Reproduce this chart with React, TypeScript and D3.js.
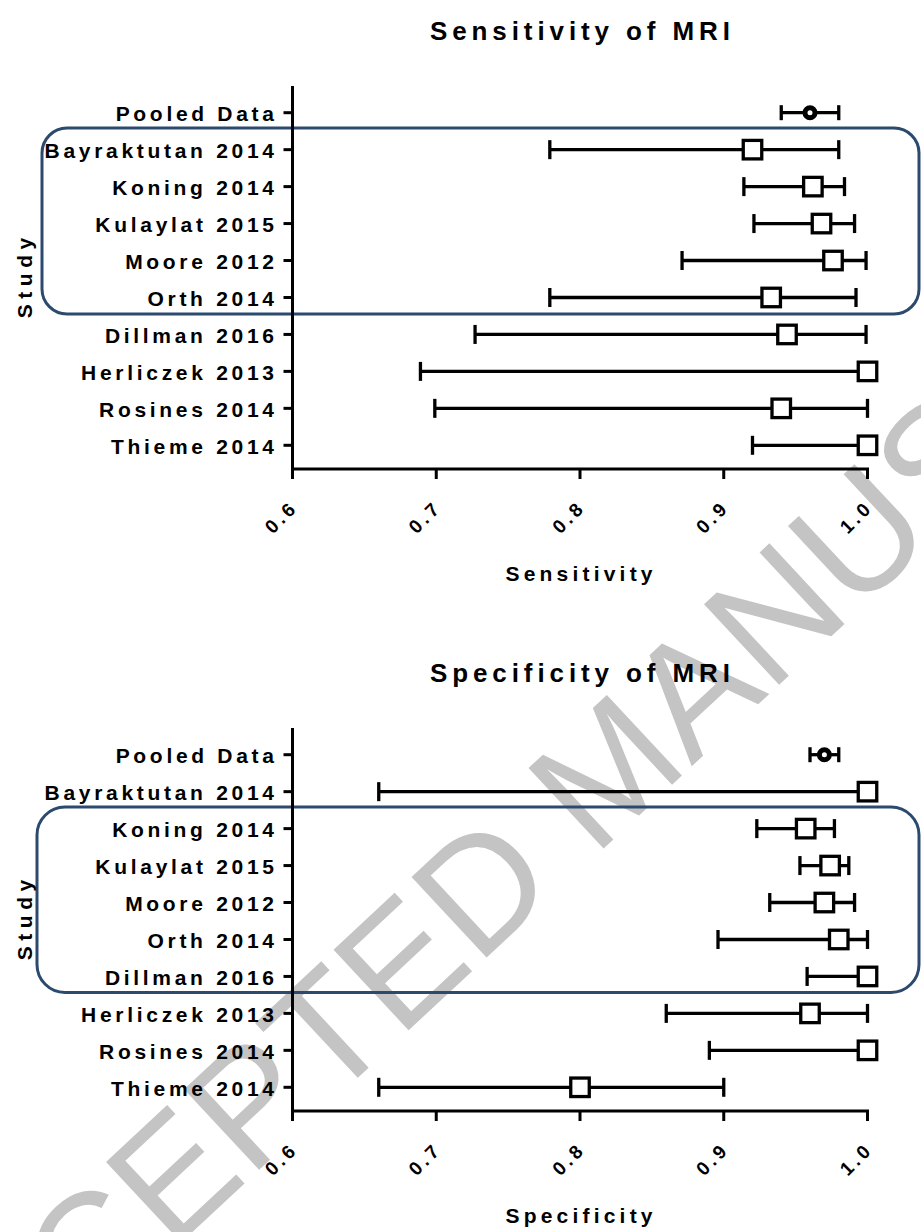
import React from "react";
import * as d3 from "d3";

const categories = [
  "Pooled Data",
  "Bayraktutan 2014",
  "Koning 2014",
  "Kulaylat 2015",
  "Moore 2012",
  "Orth 2014",
  "Dillman 2016",
  "Herliczek 2013",
  "Rosines 2014",
  "Thieme 2014",
];

const sensEst = [0.96, 0.92, 0.962, 0.968, 0.976, 0.933, 0.944, 1.0, 0.94, 1.0];
const sensLo = [0.94, 0.779, 0.914, 0.921, 0.871, 0.779, 0.727, 0.689, 0.699, 0.92];
const sensHi = [0.98, 0.98, 0.984, 0.991, 0.999, 0.992, 0.999, 1.0, 1.0, 1.0];

const specEst = [0.97, 1.0, 0.957, 0.974, 0.97, 0.98, 1.0, 0.96, 1.0, 0.8];
const specLo = [0.96, 0.66, 0.923, 0.953, 0.932, 0.896, 0.958, 0.86, 0.89, 0.66];
const specHi = [0.98, 1.0, 0.977, 0.987, 0.991, 1.0, 1.0, 1.0, 1.0, 0.9];

const xTicks = [0.6, 0.7, 0.8, 0.9, 1.0];
const xTickLabels = ["0.6", "0.7", "0.8", "0.9", "1.0"];

const FONT = "'Liberation Sans', Arial, Helvetica, sans-serif";
const BOX = "#2c4a6e";

type PanelProps = {
  oy: number;
  title: string;
  xTitle: string;
  est: number[];
  lo: number[];
  hi: number[];
  box: { x: number; y: number; w: number; h: number; r: number };
};

function Panel({ oy, title, xTitle, est, lo, hi, box }: PanelProps) {
  const x = d3.scaleLinear().domain([0.6, 1.0]).range([292.5, 867.5]);
  const y = d3.scalePoint<string>().domain(categories).range([112.7 + oy, 445.3 + oy]);
  const axisY = 469 + oy;
  const axisTop = 86 + oy;
  const labLS = 3.7;
  const tickLS = 3.5;
  const titleLS = 4.9;
  const xtLS = 4.2;
  const capH = 9.5;
  const capHPooled = 7.5;
  const sq = 18.5;

  return (
    <g>
      <text
        x={580 + titleLS / 2}
        y={40 + oy}
        textAnchor="middle"
        fontFamily={FONT}
        fontWeight="bold"
        fontSize={26}
        style={{ letterSpacing: `${titleLS}px` }}
      >
        {title}
      </text>

      <rect
        x={box.x}
        y={box.y}
        width={box.w}
        height={box.h}
        rx={box.r}
        ry={box.r}
        fill="none"
        stroke={BOX}
        strokeWidth={3}
      />

      <line x1={292.5} x2={292.5} y1={axisTop} y2={axisY + 1.5} stroke="#000" strokeWidth={3} />
      {categories.map((c) => (
        <g key={c}>
          <line x1={283.5} x2={292.5} y1={y(c)} y2={y(c)} stroke="#000" strokeWidth={3} />
          <text
            x={274 + labLS}
            y={(y(c) as number) + 8.5}
            textAnchor="end"
            fontFamily={FONT}
            fontWeight="bold"
            fontSize={21}
            style={{ letterSpacing: `${labLS}px` }}
          >
            {c}
          </text>
        </g>
      ))}

      <line x1={291} x2={869} y1={axisY} y2={axisY} stroke="#000" strokeWidth={3} />
      {xTicks.map((t, i) => {
        const tx = x(t);
        const ax = tx + 4 + tickLS * 0.707;
        const ay = axisY + 42 - tickLS * 0.707;
        return (
          <g key={t}>
            <line x1={tx} x2={tx} y1={axisY} y2={axisY + 10} stroke="#000" strokeWidth={3} />
            <text
              x={ax}
              y={ay}
              textAnchor="end"
              transform={`rotate(-45 ${ax} ${ay})`}
              fontFamily={FONT}
              fontWeight="bold"
              fontSize={19}
              style={{ letterSpacing: `${tickLS}px` }}
            >
              {xTickLabels[i]}
            </text>
          </g>
        );
      })}

      <text
        x={579 + xtLS / 2}
        y={581 + oy}
        textAnchor="middle"
        fontFamily={FONT}
        fontWeight="bold"
        fontSize={21}
        style={{ letterSpacing: `${xtLS}px` }}
      >
        {xTitle}
      </text>

      <text
        transform={`translate(32 ${278 + oy}) rotate(-90)`}
        x={5.5 / 2}
        y={0}
        textAnchor="middle"
        fontFamily={FONT}
        fontWeight="bold"
        fontSize={21}
        style={{ letterSpacing: "5.5px" }}
      >
        Study
      </text>

      {categories.map((c, i) => {
        const yy = y(c) as number;
        const h = i === 0 ? capHPooled : capH;
        return (
          <g key={"e" + c} stroke="#000" strokeWidth={3.3}>
            <line x1={x(lo[i])} x2={x(hi[i])} y1={yy} y2={yy} />
            <line x1={x(lo[i])} x2={x(lo[i])} y1={yy - h} y2={yy + h} />
            <line x1={x(hi[i])} x2={x(hi[i])} y1={yy - h} y2={yy + h} />
          </g>
        );
      })}

      {categories.map((c, i) => {
        const yy = y(c) as number;
        const xx = x(est[i]);
        return i === 0 ? (
          <circle key={"m" + c} cx={xx} cy={yy} r={5} fill="#fff" stroke="#000" strokeWidth={5} />
        ) : (
          <rect
            key={"m" + c}
            x={xx - sq / 2}
            y={yy - sq / 2}
            width={sq}
            height={sq}
            fill="#fff"
            stroke="#000"
            strokeWidth={3.3}
          />
        );
      })}
    </g>
  );
}

export default function App() {
  return (
    <svg
      width={921}
      height={1232}
      viewBox="0 0 921 1232"
      style={{ position: "absolute", left: 0, top: 0, background: "#fff" }}
    >
      <rect x={0} y={0} width={921} height={1232} fill="#fff" />
      <text
        x={646}
        y={809}
        transform="rotate(-43 646 809)"
        textAnchor="middle"
        fontFamily={FONT}
        fontSize={160}
        fill="#c4c4c4"
      >
        ACCEPTED MANUSCRIPT
      </text>
      <Panel
        oy={0}
        title="Sensitivity of MRI"
        xTitle="Sensitivity"
        est={sensEst}
        lo={sensLo}
        hi={sensHi}
        box={{ x: 42, y: 128, w: 877, h: 186, r: 25 }}
      />
      <Panel
        oy={642}
        title="Specificity of MRI"
        xTitle="Specificity"
        est={specEst}
        lo={specLo}
        hi={specHi}
        box={{ x: 37, y: 807, w: 882, h: 185.5, r: 28 }}
      />
    </svg>
  );
}
